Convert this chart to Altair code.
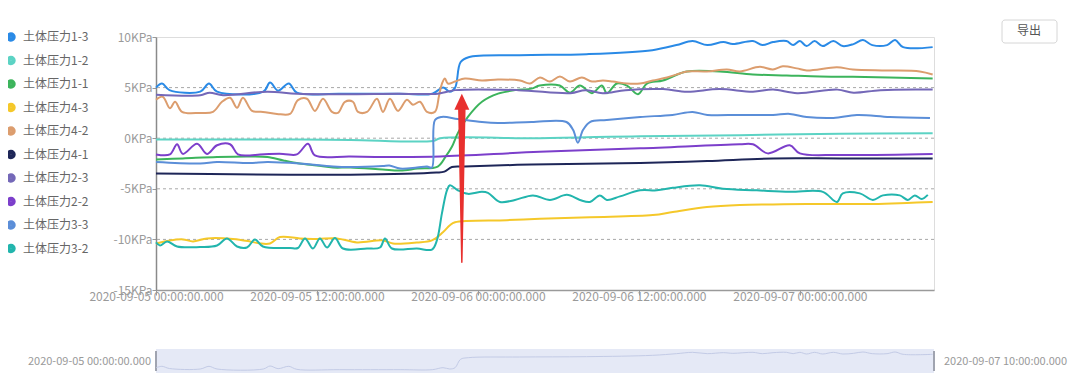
import altair as alt
import pandas as pd

# ---------------- data (hours since start, KPa) ----------------
START = pd.Timestamp("2020-09-05 00:00:00")
END = pd.Timestamp("2020-09-07 10:00:00")
START_LABEL = "2020-09-05 00:00:00.000"
END_LABEL = "2020-09-07 10:00:00.000"

series_names = ["土体压力1-3", "土体压力1-2", "土体压力1-1", "土体压力4-3", "土体压力4-2",
                "土体压力4-1", "土体压力2-3", "土体压力2-2", "土体压力3-3", "土体压力3-2"]
series_colors = ["#2a8ae6", "#5cd3c4", "#3cb45c", "#f5c82a", "#dc9d6e",
                 "#1e2658", "#7468b8", "#7c3fcb", "#5b8ed8", "#22b5ad"]

s13 = [(0.0, 5.0), (0.45, 5.4), (1.0, 4.75), (3.3, 4.6), (3.95, 5.4), (4.55, 4.6), (8.0, 4.6),
       (8.5, 5.5), (9.1, 4.7), (9.9, 5.4), (10.5, 4.5), (13.7, 4.4), (18.2, 4.4), (20.6, 4.4),
       (21.4, 5.0), (21.9, 4.6), (22.3, 5.0), (22.7, 7.5), (23.3, 8.0), (27.1, 8.2), (32.1, 8.3),
       (37.0, 8.7), (38.8, 9.2), (40.0, 9.6), (41.1, 9.2), (42.3, 9.5), (43.0, 9.3), (44.5, 9.6),
       (45.2, 9.2), (46.0, 9.5), (47.0, 9.6), (47.5, 9.2), (48.0, 9.6), (48.5, 9.1), (49.1, 9.6),
       (49.7, 9.1), (50.5, 9.6), (51.2, 9.1), (52.0, 9.3), (52.7, 9.7), (53.4, 9.2), (54.5, 9.2),
       (55.1, 9.7), (55.7, 9.0), (57.9, 9.0)]
s12 = [(0.0, -0.13), (10.7, -0.13), (14.5, -0.17), (20.65, -0.27), (21.2, 0.0), (28.6, 0.0),
       (36.1, 0.2), (43.5, 0.3), (51.0, 0.45), (57.9, 0.5)]
s11 = [(0.0, -2.1), (2.0, -2.0), (4.55, -1.85), (7.0, -1.8), (8.3, -1.85), (9.5, -2.2), (10.7, -2.5),
       (12.0, -2.7), (13.2, -2.9), (14.5, -2.9), (16.9, -3.1), (18.2, -3.2), (19.5, -3.0), (21.0, -2.8),
       (21.6, -1.8), (22.06, -0.85), (22.5, 0.5), (23.25, 2.1), (24.3, 3.6), (25.5, 4.4), (26.76, 4.75),
       (28.0, 4.9), (28.6, 5.2), (30.1, 5.2), (30.86, 4.5), (31.6, 5.2), (32.5, 4.45), (33.24, 5.2),
       (33.61, 4.45), (34.36, 5.4), (35.11, 5.2), (35.93, 4.35), (36.6, 5.4), (37.79, 5.7), (39.06, 6.4),
       (39.58, 6.6), (42.04, 6.6), (44.5, 6.3), (47.03, 6.2), (49.49, 6.1), (51.95, 6.07), (57.9, 5.9)]
s43 = [(0.0, -10.4), (1.04, -10.1), (2.01, -10.0), (2.76, -10.2), (3.8, -9.9), (5.74, -9.95),
       (7.01, -10.2), (7.75, -10.4), (8.5, -10.4), (9.24, -9.77), (10.73, -9.9), (12.0, -9.95),
       (13.49, -9.9), (14.98, -10.3), (16.92, -10.1), (17.66, -10.4), (19.45, -10.3), (20.57, -10.1),
       (21.39, -9.3), (21.91, -8.6), (22.29, -8.3), (26.16, -8.1), (28.62, -7.95), (32.35, -7.8),
       (37.04, -7.6), (38.53, -7.3), (41.07, -6.8), (43.53, -6.6), (45.99, -6.55), (48.52, -6.5),
       (53.44, -6.5), (55.97, -6.4), (57.9, -6.3)]
s42 = [(0.0, 3.8), (0.5, 4.1), (1.04, 2.95), (1.42, 3.6), (1.94, 2.6), (3.28, 2.5), (4.25, 2.6),
       (4.92, 3.6), (5.52, 4.0), (6.04, 3.0), (6.48, 4.0), (7.16, 2.7), (7.97, 2.6), (9.02, 2.4),
       (9.99, 2.4), (10.58, 3.76), (11.25, 3.9), (11.85, 2.7), (12.45, 3.9), (13.12, 2.6), (13.56, 2.5),
       (14.09, 3.6), (14.68, 3.6), (15.06, 2.6), (15.73, 2.6), (16.47, 3.9), (16.92, 2.6), (17.44, 3.9),
       (18.04, 2.7), (18.71, 3.8), (19.15, 3.3), (19.68, 3.6), (20.2, 2.6), (20.79, 2.6), (21.1, 4.2),
       (21.32, 5.4), (21.54, 5.9), (21.76, 5.4), (22.29, 5.6), (23.03, 5.9), (24.3, 5.7), (25.49, 5.8),
       (27.13, 5.7), (27.88, 5.4), (28.62, 6.0), (29.37, 5.6), (30.11, 6.1), (30.86, 5.6), (31.75, 6.0),
       (32.5, 5.6), (33.32, 5.7), (34.06, 5.6), (35.11, 5.4), (36.08, 5.4), (37.04, 5.7), (38.09, 6.0),
       (39.06, 6.4), (39.58, 6.6), (41.07, 6.6), (42.56, 6.8), (43.53, 6.6), (45.02, 7.05), (45.99, 6.8),
       (46.73, 7.1), (47.77, 6.9), (48.52, 6.7), (50.76, 7.0), (51.95, 6.8), (54.48, 6.7), (56.94, 6.6),
       (57.9, 6.3)]
s41 = [(0.0, -3.5), (14.5, -3.6), (20.9, -3.4), (21.5, -3.3), (22.06, -2.85), (23.0, -2.8),
       (28.0, -2.6), (36.1, -2.45), (41.1, -2.25), (46.0, -2.0), (51.0, -2.0), (57.9, -2.0)]
s23 = [(0.0, 4.3), (3.3, 4.25), (4.0, 4.5), (5.0, 4.25), (8.3, 4.6), (10.5, 4.4), (14.0, 4.35),
       (18.0, 4.4), (21.0, 4.4), (22.3, 4.75), (27.0, 4.75), (30.9, 4.45), (32.0, 4.75), (33.3, 4.45),
       (35.0, 4.75), (37.8, 4.85), (39.6, 4.6), (42.0, 4.85), (44.5, 4.6), (46.0, 4.8), (47.8, 4.45),
       (50.8, 4.8), (52.0, 4.5), (54.0, 4.75), (57.9, 4.8)]
s22 = [(0.0, -1.6), (1.04, -1.6), (1.57, -0.6), (2.0, -1.55), (3.06, -0.55), (3.8, -1.55), (4.55, -0.7),
       (5.52, -0.6), (6.11, -1.6), (7.0, -1.7), (7.75, -1.6), (9.47, -1.55), (10.5, -1.6), (11.33, -0.55),
       (11.85, -1.7), (14.46, -1.8), (18.2, -1.85), (21.2, -1.8), (28.6, -1.35), (36.1, -1.0),
       (43.5, -0.6), (44.5, -0.6), (45.6, -1.5), (47.25, -0.7), (48.0, -1.5), (51.0, -1.65), (57.9, -1.55)]
s33 = [(0.0, -2.35), (3.3, -2.5), (4.55, -2.35), (7.0, -2.45), (8.3, -2.35), (10.7, -2.5), (13.2, -2.8),
       (14.5, -2.85), (16.9, -2.75), (17.4, -2.7), (18.2, -3.0), (19.45, -2.9), (20.2, -2.8), (20.57, -2.9),
       (20.8, 1.8), (21.3, 2.1), (22.5, 1.9), (24.3, 1.6), (25.5, 1.5), (28.0, 1.6), (30.6, 1.6),
       (31.1, 0.8), (31.45, -0.45), (31.83, 0.8), (32.35, 1.6), (33.6, 1.8), (36.1, 2.1), (38.5, 2.3),
       (40.0, 2.6), (41.1, 2.3), (43.5, 2.3), (46.0, 2.3), (47.25, 2.4), (48.5, 2.1), (50.5, 2.0),
       (52.25, 2.3), (54.7, 2.1), (57.7, 2.0)]
s32 = [(0.0, -10.3), (0.3, -10.6), (0.82, -10.2), (1.57, -10.7), (3.28, -10.75), (4.55, -10.6),
       (5.29, -9.9), (6.04, -10.7), (6.78, -10.8), (7.38, -10.0), (7.97, -10.7), (9.99, -10.85),
       (10.58, -10.85), (11.11, -9.9), (11.7, -10.9), (12.22, -9.9), (12.75, -10.8), (13.34, -9.85),
       (13.94, -10.9), (15.73, -10.9), (16.7, -10.8), (17.07, -9.9), (17.59, -10.9), (19.45, -10.9),
       (20.57, -11.0), (20.94, -10.1), (21.32, -7.4), (21.69, -5.15), (21.91, -4.65), (22.51, -5.15),
       (23.25, -5.5), (24.3, -5.3), (24.75, -5.4), (25.64, -6.3), (26.76, -6.1), (28.1, -5.65),
       (29.37, -6.1), (30.63, -5.6), (31.6, -6.1), (32.35, -6.3), (33.09, -5.65), (33.61, -6.1),
       (34.59, -5.75), (36.08, -5.15), (37.34, -5.15), (38.53, -4.9), (40.55, -4.65), (42.26, -5.0),
       (44.79, -5.15), (47.25, -5.3), (49.71, -5.3), (50.76, -6.3), (51.2, -5.45), (52.47, -5.45),
       (53.44, -6.1), (54.19, -5.65), (55.45, -5.65), (56.05, -6.1), (56.57, -5.65), (57.09, -6.0),
       (57.54, -5.6)]

series_points = [s13, s12, s11, s43, s42, s41, s23, s22, s33, s32]

y_ticks = [-15, -10, -5, 0, 5, 10]
grid_levels = [5, 0, -5, -10]
x_tick_hours = [0, 12, 24, 36, 48]

# red arrow annotation (hours, KPa)
arrow_hour = 22.8
arrow_tail = -12.25
arrow_base = 2.8
arrow_tip = 4.4
arrow_half_width_h = 0.56

FONT = "Noto Sans CJK SC"


def iso(h):
    return (START + pd.Timedelta(hours=h)).strftime("%Y-%m-%dT%H:%M:%S")


def dt(ts):
    return alt.DateTime(year=ts.year, month=ts.month, date=ts.day, hours=ts.hour, minutes=ts.minute)


rows = []
for name, pts in zip(series_names, series_points):
    for i, (h, v) in enumerate(pts):
        rows.append({"series": name, "t": iso(h), "v": v, "i": i})
df = pd.DataFrame(rows)

x_scale = alt.Scale(domain=[dt(START), dt(END)])
y_scale = alt.Scale(domain=[-15, 10], nice=False, zero=False)

x_axis = alt.Axis(values=[dt(START + pd.Timedelta(hours=h)) for h in x_tick_hours],
                  format="%Y-%m-%d %H:%M:%S.%L", formatType="time", title=None,
                  labelFont=FONT, labelFontSize=12, labelColor="#9a9a9a",
                  domainColor="#9a9a9a", domainWidth=1.5, tickColor="#9a9a9a", tickSize=5,
                  labelPadding=-4, labelFlush=False, labelOverlap=False, grid=False)
y_axis = alt.Axis(values=y_ticks, labelExpr="datum.value + 'KPa'", title=None,
                  labelFont=FONT, labelFontSize=12, labelColor="#9a9a9a",
                  domainColor="#8a8a8a", domainWidth=1.5, tickColor="#9a9a9a", tickSize=4,
                  labelPadding=0, grid=False)

grid = alt.Chart(pd.DataFrame({"g": grid_levels})).mark_rule(
    color="#a8a8a8", strokeDash=[3, 3], strokeWidth=1
).encode(y=alt.Y("g:Q", scale=y_scale, axis=y_axis))

lines = alt.Chart(df).mark_line(strokeWidth=2, interpolate="catmull-rom").encode(
    x=alt.X("t:T", scale=x_scale, axis=x_axis),
    y=alt.Y("v:Q", scale=y_scale, axis=y_axis),
    color=alt.Color("series:N", scale=alt.Scale(domain=series_names, range=series_colors),
                    legend=alt.Legend(title=None, orient="none", legendX=-151, legendY=-6,
                                      direction="vertical", symbolType="circle", symbolSize=20,
                                      symbolStrokeWidth=5, labelFont=FONT, labelFontSize=12,
                                      labelColor="#666666", rowPadding=-2.5, labelOffset=6,
                                      padding=0)),
    order="i:Q",
)

shaft_df = pd.DataFrame({"t": [iso(arrow_hour), iso(arrow_hour)], "v": [arrow_tail, arrow_base + 0.2],
                         "w": [1.5, 7.5]})
shaft = alt.Chart(shaft_df).mark_trail(color="#e8302e").encode(
    x=alt.X("t:T", scale=x_scale), y=alt.Y("v:Q", scale=y_scale),
    size=alt.Size("w:Q", scale=None, legend=None))

head_df = pd.DataFrame({"t": [iso(arrow_hour - arrow_half_width_h), iso(arrow_hour),
                              iso(arrow_hour + arrow_half_width_h)],
                        "v": [arrow_base, arrow_tip, arrow_base], "b": [arrow_base] * 3})
head = alt.Chart(head_df).mark_area(color="#e8302e", opacity=1).encode(
    x=alt.X("t:T", scale=x_scale), y=alt.Y("v:Q", scale=y_scale), y2="b:Q")

slider_df = pd.DataFrame({"t0": [iso(0)], "t1": [END.strftime("%Y-%m-%dT%H:%M:%S")]})
slider_bg = alt.Chart(slider_df).mark_rect(color="#e5e9f6").encode(
    x=alt.X("t0:T", scale=x_scale), x2="t1:T", y=alt.value(312), y2=alt.value(336))
handles_df = pd.DataFrame({"t": [iso(0), END.strftime("%Y-%m-%dT%H:%M:%S")]})
handles = alt.Chart(handles_df).mark_rule(color="#a0a4b0", strokeWidth=2).encode(
    x=alt.X("t:T", scale=x_scale), y=alt.value(314), y2=alt.value(334))
lab_l = alt.Chart(pd.DataFrame({"s": [START_LABEL]})).mark_text(
    align="right", baseline="middle", font=FONT, fontSize=11, color="#9a9a9a"
).encode(x=alt.value(-5), y=alt.value(325), text="s:N")
lab_r = alt.Chart(pd.DataFrame({"s": [END_LABEL]})).mark_text(
    align="left", baseline="middle", font=FONT, fontSize=11, color="#9a9a9a"
).encode(x=alt.value(788), y=alt.value(325), text="s:N")

btn = alt.Chart(pd.DataFrame({"s": ["导出"]})).mark_rect(
    fill="white", stroke="#d6d6d6", strokeWidth=1, cornerRadius=3
).encode(x=alt.value(846), x2=alt.value(901), y=alt.value(-17), y2=alt.value(6))
btn_t = alt.Chart(pd.DataFrame({"s": ["导出"]})).mark_text(
    font=FONT, fontSize=12, color="#555555", baseline="middle"
).encode(x=alt.value(873), y=alt.value(-6), text="s:N")

main = alt.layer(grid, lines, shaft, head, slider_bg, handles)

shadow = alt.Chart(df[df["series"] == series_names[0]]).mark_line(
    color="#c3cbe6", strokeWidth=1, interpolate="catmull-rom"
).encode(x=alt.X("t:T", scale=x_scale),
         y=alt.Y("v:Q", scale=alt.Scale(domain=[4, 10], range=[334, 314], nice=False, zero=False),
                 axis=None))

chart = alt.layer(main, shadow, lab_l, lab_r, btn, btn_t).resolve_scale(y="independent").properties(
    width=778, height=253,
    padding={"left": 148, "top": 29, "right": 138, "bottom": 86},
    autosize=alt.AutoSizeParams(type="none"),
).configure_view(strokeWidth=0).configure(font=FONT, background="white")

chart.save("out.html", embed_options={"renderer": "svg", "actions": False})
